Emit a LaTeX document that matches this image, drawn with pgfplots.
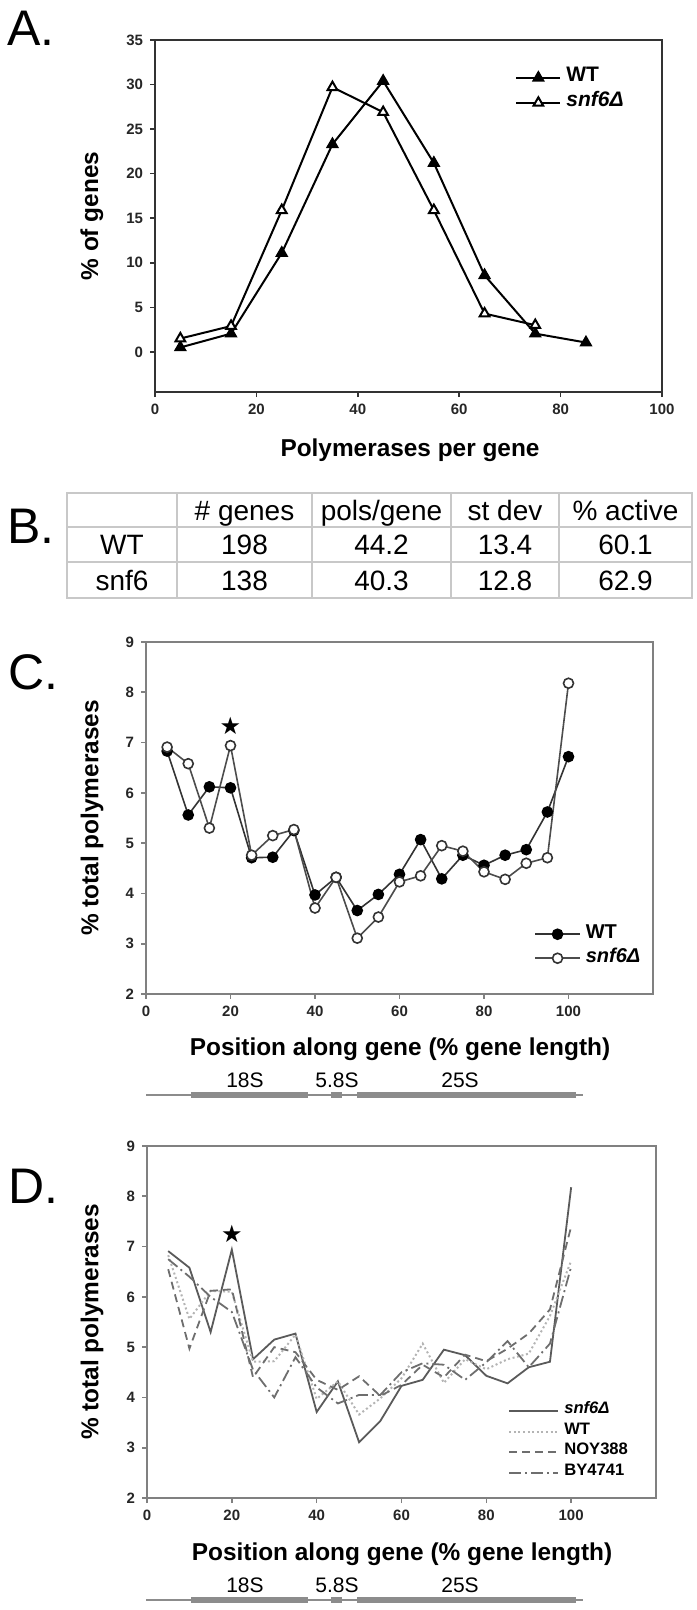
\documentclass[border=0pt]{standalone}
\usepackage{fontspec}
\setmainfont{Liberation Sans}
\newfontfamily\symfont{DejaVu Sans}
\usepackage{pgfplots}
\pgfplotsset{compat=1.18}
\definecolor{fgray}{HTML}{808080}
\definecolor{lgray}{HTML}{B4B4B4}
\definecolor{dgray}{HTML}{5A5A5A}
\definecolor{mgray}{HTML}{6E6E6E}
\definecolor{tgray}{HTML}{C8C8C8}
\definecolor{diag}{HTML}{8C8C8C}

\pgfplotsset{
  panel/.style={
    scale only axis, anchor=north west, clip=false,
    tick align=outside, xtick pos=left, ytick pos=left,
    major tick length=2.5pt,
    /pgf/number format/assume math mode=true,
    ticklabel style={font=\bfseries\fontsize{7.5}{9}\selectfont, text=black!85},
    every axis y label/.style={rotate=90, anchor=center, font=\bfseries\fontsize{12.2}{14}\selectfont},
    every axis x label/.style={anchor=center, font=\bfseries\fontsize{12.2}{14}\selectfont},
    legend cell align=left,
  },
}

\newcommand{\genediag}[1]{%
  \begin{scope}[yshift=#1]
    \draw[diag, line width=0.7pt] (73pt,0pt) -- (291.5pt,0pt);
    \fill[diag] (95.5pt,-1.4pt) rectangle (154pt,1.4pt);
    \fill[diag] (165.5pt,-1.4pt) rectangle (171pt,1.4pt);
    \fill[diag] (178.5pt,-1.4pt) rectangle (288pt,1.4pt);
    \node[font=\fontsize{10.5}{12}\selectfont, anchor=base, inner sep=0pt] at (122.5pt,3.6pt) {18S};
    \node[font=\fontsize{10.5}{12}\selectfont, anchor=base, inner sep=0pt] at (168.5pt,3.6pt) {5.8S};
    \node[font=\fontsize{10.5}{12}\selectfont, anchor=base, inner sep=0pt] at (230pt,3.6pt) {25S};
  \end{scope}}

\begin{document}
\begin{tikzpicture}
\path[use as bounding box] (0pt,0pt) rectangle (348pt,-805pt);

% ---------- Panel A ----------
\node[anchor=base west, inner sep=0pt, font=\fontsize{25}{25}\selectfont] at (3.5pt,-22.75pt) {A.};
\begin{axis}[panel, at={(77.5pt,-20pt)}, width=253.5pt, height=176pt,
  xmin=0, xmax=100, ymin=-4.5, ymax=35,
  xtick={0,20,...,100}, ytick={0,5,...,35},
  axis line style={black!80, line width=0.75pt},
  tick style={black!80, line width=0.75pt},
  ylabel={\% of genes}, xlabel={Polymerases per gene},
  ylabel style={at={(axis description cs:-0.1243,0.5)}},
  xlabel style={at={(axis description cs:0.503,-0.1648)}},
  legend style={draw=none, fill=none, at={(0.71,0.929)}, anchor=north west,
    font=\bfseries\fontsize{10.5}{12}\selectfont, inner sep=0pt,
    nodes={inner sep=0pt, text height=8pt, text depth=4.5pt, inner xsep=2.5pt}},
  legend image code/.code={\draw[mark repeat=2,mark phase=2,#1] plot coordinates {(0pt,0pt) (11pt,0pt) (22pt,0pt)};},
]
\addplot[black, line width=1pt, mark=triangle*, mark size=2.8pt, mark options={fill=black, solid}]
  coordinates {(5,0.5)(15,2.05)(25,11.1)(35,23.3)(45,30.4)(55,21.2)(65,8.6)(75,2.05)(85,1.05)};
\addlegendentry{WT}
\addplot[black, line width=1pt, mark=triangle*, mark size=2.8pt, mark options={fill=white, solid}]
  coordinates {(5,1.5)(15,2.9)(25,15.9)(35,29.7)(45,26.9)(55,15.9)(65,4.3)(75,3.0)};
\addlegendentry{\textit{snf6Δ}}
\end{axis}

% ---------- Panel B (table) ----------
\node[anchor=base west, inner sep=0pt, font=\fontsize{25}{25}\selectfont] at (3.5pt,-271.75pt) {B.};
\draw[tgray, line width=0.8pt] (33.5pt,-246.5pt) rectangle (346pt,-299pt);
\draw[tgray, line width=0.8pt] (33.5pt,-263.5pt) -- (346pt,-263.5pt);
\draw[tgray, line width=0.8pt] (33.5pt,-281pt) -- (346pt,-281pt);
\foreach \xx in {88.5,156,225.5,279.5} {\draw[tgray, line width=0.8pt] (\xx pt,-246.5pt) -- (\xx pt,-299pt);}
\begin{scope}[every node/.style={anchor=base, inner sep=0pt, font=\fontsize{14}{16}\selectfont}]
  \node at (122.25pt,-260pt) {\# genes};
  \node at (190.75pt,-260pt) {pols/gene};
  \node at (252.5pt,-260pt) {st dev};
  \node at (312.75pt,-260pt) {\% active};
  \node at (61pt,-277.25pt) {WT};
  \node at (122.25pt,-277.25pt) {198};
  \node at (190.75pt,-277.25pt) {44.2};
  \node at (252.5pt,-277.25pt) {13.4};
  \node at (312.75pt,-277.25pt) {60.1};
  \node at (61pt,-295pt) {snf6};
  \node at (122.25pt,-295pt) {138};
  \node at (190.75pt,-295pt) {40.3};
  \node at (252.5pt,-295pt) {12.8};
  \node at (312.75pt,-295pt) {62.9};
\end{scope}

% ---------- Panel C ----------
\node[anchor=base west, inner sep=0pt, font=\fontsize{25}{25}\selectfont] at (4pt,-344.75pt) {C.};
\begin{axis}[panel, at={(73pt,-321pt)}, width=253.5pt, height=176pt,
  xmin=0, xmax=120, ymin=2, ymax=9,
  xtick={0,20,...,100}, ytick={2,...,9},
  axis line style={fgray, line width=0.8pt},
  tick style={fgray, line width=0.8pt},
  ylabel={\% total polymerases}, xlabel={Position along gene (\% gene length)},
  ylabel style={at={(axis description cs:-0.1065,0.5)}},
  xlabel style={at={(axis description cs:0.501,-0.1575)}},
  legend style={draw=none, fill=none, at={(0.765,0.205)}, anchor=north west,
    font=\bfseries\fontsize{10}{12}\selectfont, inner sep=0pt,
    nodes={inner sep=0pt, text height=8pt, text depth=4pt, inner xsep=2.5pt}},
  legend image code/.code={\draw[mark repeat=2,mark phase=2,#1] plot coordinates {(0pt,0pt) (11.25pt,0pt) (22.5pt,0pt)};},
]
\addplot[black!80, line width=0.8pt, mark=*, mark size=2.5pt, mark options={fill=black, draw=black}]
  coordinates {(5,6.83)(10,5.56)(15,6.12)(20,6.10)(25,4.71)(30,4.72)(35,5.25)(40,3.97)(45,4.32)(50,3.66)(55,3.98)(60,4.38)(65,5.07)(70,4.29)(75,4.76)(80,4.56)(85,4.76)(90,4.87)(95,5.62)(100,6.72)};
\addlegendentry{WT}
\addplot[black!70, line width=0.8pt, mark=*, mark size=2.5pt, mark options={fill=white, draw=black!80}]
  coordinates {(5,6.91)(10,6.58)(15,5.30)(20,6.94)(25,4.76)(30,5.15)(35,5.27)(40,3.71)(45,4.32)(50,3.11)(55,3.53)(60,4.23)(65,4.35)(70,4.95)(75,4.84)(80,4.43)(85,4.28)(90,4.60)(95,4.71)(100,8.18)};
\addlegendentry{\textit{snf6Δ}}
\node[font=\symfont\fontsize{12}{12}\selectfont, inner sep=0pt] at (axis cs:20,7.33) {★};
\end{axis}
\genediag{-547.5pt}

% ---------- Panel D ----------
\node[anchor=base west, inner sep=0pt, font=\fontsize{25}{25}\selectfont] at (4pt,-601.75pt) {D.};
\begin{axis}[panel, at={(73.5pt,-573pt)}, width=254.5pt, height=176pt,
  xmin=0, xmax=120, ymin=2, ymax=9,
  xtick={0,20,...,100}, ytick={2,...,9},
  axis line style={fgray, line width=0.8pt},
  tick style={fgray, line width=0.8pt},
  ylabel={\% total polymerases}, xlabel={Position along gene (\% gene length)},
  ylabel style={at={(axis description cs:-0.108,0.5)}},
  xlabel style={at={(axis description cs:0.501,-0.159)}},
  legend style={draw=none, fill=none, at={(0.709,0.278)}, anchor=north west,
    font=\bfseries\fontsize{8.3}{10}\selectfont, inner sep=0pt,
    nodes={inner sep=0pt, text height=6.5pt, text depth=3.85pt, inner xsep=2.5pt}},
  legend image code/.code={\draw[#1] (0pt,0pt) -- (24.5pt,0pt);},
]
\addplot[dgray, line width=0.9pt]
  coordinates {(5,6.91)(10,6.58)(15,5.30)(20,6.94)(25,4.76)(30,5.15)(35,5.27)(40,3.71)(45,4.32)(50,3.11)(55,3.53)(60,4.23)(65,4.35)(70,4.95)(75,4.84)(80,4.43)(85,4.28)(90,4.60)(95,4.71)(100,8.18)};
\addlegendentry{\textit{snf6Δ}}
\addplot[lgray, line width=1pt, dash pattern=on 1pt off 1.3pt]
  coordinates {(5,6.83)(10,5.56)(15,6.12)(20,6.10)(25,4.71)(30,4.72)(35,5.25)(40,3.97)(45,4.32)(50,3.66)(55,3.98)(60,4.38)(65,5.07)(70,4.29)(75,4.76)(80,4.56)(85,4.76)(90,4.87)(95,5.62)(100,6.72)};
\addlegendentry{WT}
\addplot[mgray, line width=0.9pt, dash pattern=on 4pt off 2.5pt]
  coordinates {(5,6.55)(10,4.97)(15,6.12)(20,6.15)(25,4.40)(30,5.00)(35,4.90)(40,4.35)(45,4.15)(50,4.42)(55,4.03)(60,4.25)(65,4.65)(70,4.40)(75,4.85)(80,4.72)(85,4.97)(90,5.27)(95,5.75)(100,7.40)};
\addlegendentry{NOY388}
\addplot[mgray, line width=0.9pt, dash pattern=on 6pt off 2pt on 1pt off 2pt]
  coordinates {(5,6.75)(10,6.40)(15,6.00)(20,5.70)(25,4.55)(30,4.00)(35,4.80)(40,4.20)(45,3.88)(50,4.05)(55,4.05)(60,4.50)(65,4.68)(70,4.65)(75,4.35)(80,4.70)(85,5.12)(90,4.60)(95,5.07)(100,6.60)};
\addlegendentry{BY4741}
\node[font=\symfont\fontsize{12}{12}\selectfont, inner sep=0pt] at (axis cs:20,7.25) {★};
\end{axis}
\genediag{-800pt}
\end{tikzpicture}
\end{document}
